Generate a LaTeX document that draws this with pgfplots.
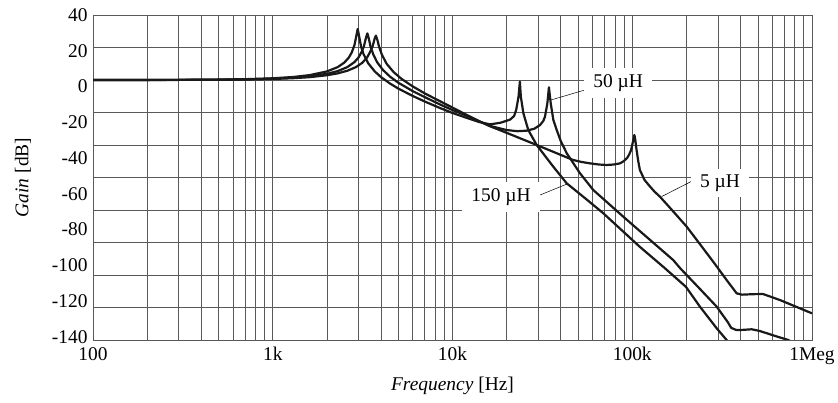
\documentclass[border=0pt]{standalone}
\usepackage{pgfplots}
\pgfplotsset{compat=1.18}
\usepackage{fontspec}
\setmainfont{Liberation Serif}
\newcommand{\fs}{\fontsize{19.5}{22}\selectfont}
\begin{document}
\begin{tikzpicture}
\begin{axis}[
  at={(0,0)}, anchor=south west,
  scale only axis, width=719bp, height=325bp,
  xmode=log, log basis x=10,
  xmin=100, xmax=1000000, ymin=-160, ymax=40,
  xtick={100,1000,10000,100000,1000000},
  xticklabels={100,1k,10k,100k,1Meg},
  minor xtick={200,300,400,500,600,700,800,900,2000,3000,4000,5000,6000,7000,8000,9000,20000,30000,40000,50000,60000,70000,80000,90000,200000,300000,400000,500000,600000,700000,800000,900000},
  ytick={40,18,-4,-26,-48,-70,-92,-114,-136,-158},
  yticklabels={40,20,0,-20,-40,-60,-80,-100,-120,-140},
  minor ytick={-160,-140,...,40},
  xmajorgrids=true, xminorgrids=true,
  ymajorgrids=false, yminorgrids=true,
  major tick length=0pt, minor tick length=0pt,
  grid style={black!65, line width=0.6bp},
  minor grid style={black!65, line width=0.6bp},
  axis line style={black!65, line width=0.6bp},
  tick label style={font=\fs},
  xticklabel style={yshift=-4bp},
  yticklabel style={xshift=-2bp},
  label style={font=\fs},
  xlabel={\textit{Frequency} [Hz]},
  ylabel={\textit{Gain} [dB]},
  xlabel style={yshift=-6bp},
  ylabel style={yshift=14bp},
  clip=true,
]
% 150 uH
\addplot[black!90, line width=2.2bp, no marks, line join=round] coordinates {(100,0) (300,0.09) (500,0.25) (700,0.5) (1000,1.05) (1300,1.85) (1600,2.98) (2000,5.25) (2300,7.95) (2500,10.7) (2650,13.8) (2750,16.9) (2850,21.6) (2920,27.4) (2970,31.4) (3020,27.2) (3100,20.6) (3200,15.9) (3400,10.2) (3700,5.2) (4000,1.8) (4500,-2.25) (5000,-5.3) (6000,-9.8) (7000,-13.2) (8500,-17.2) (10000,-20.3) (12000,-23.3) (14000,-25.8) (16200,-27.3) (18500,-26.3) (20900,-24.4) (22000,-22.2) (22600,-18.5) (23300,-10.3) (23700,-1.0) (24000,-10.3) (24800,-20.5) (26400,-30.8) (29400,-40) (36400,-53.4) (43200,-63.6) (55000,-73) (69000,-82) (110000,-102.6) (150000,-115.3) (199000,-127.3) (238000,-139.5) (295000,-152.8) (335000,-160) (370000,-167)};
% 50 uH
\addplot[black!90, line width=2.2bp, no marks, line join=round] coordinates {(100,0) (300,0.07) (500,0.19) (700,0.39) (1000,0.81) (1300,1.41) (1600,2.23) (2000,3.8) (2300,5.49) (2600,7.93) (2850,11.05) (3000,13.86) (3120,17.2) (3220,21.0) (3300,25.9) (3360,28.7) (3420,25.7) (3500,20.6) (3620,15.9) (3800,11.1) (4100,6.2) (4500,2.0) (5000,-1.7) (6000,-6.8) (7000,-10.5) (8500,-15.0) (10000,-18.5) (12000,-22) (14000,-25.3) (16200,-28.3) (20000,-30.8) (23000,-31.5) (25800,-31.2) (28500,-30) (30700,-27.7) (32000,-25.2) (32700,-22.6) (33700,-14.4) (34400,-4.5) (35200,-14.4) (36400,-24.6) (38000,-30.8) (40000,-37.5) (43200,-45.1) (51200,-57.4) (60700,-67.7) (89100,-84.1) (169000,-110.8) (185000,-115.9) (240000,-129) (295000,-139.5) (340000,-149) (355000,-152.5) (380000,-153.9) (408000,-153.8) (462000,-153.4) (514000,-154.5) (623000,-157.5) (738000,-160) (800000,-162)};
% 5 uH
\addplot[black!90, line width=2.2bp, no marks, line join=round] coordinates {(100,0) (300,0.06) (500,0.16) (700,0.31) (1000,0.64) (1300,1.11) (1600,1.74) (2000,2.91) (2300,4.1) (2600,5.69) (2900,7.92) (3150,10.6) (3350,13.9) (3480,17.2) (3600,21.0) (3690,25.5) (3750,27.3) (3820,24.7) (3900,20.6) (4050,15.5) (4300,10.0) (4700,4.9) (5200,0.7) (6000,-3.9) (7000,-8.2) (8500,-13.0) (10000,-17.0) (12000,-21.5) (14000,-25.2) (16200,-28.5) (20000,-32.5) (29400,-40) (36000,-44) (46800,-49.2) (52000,-50.4) (58200,-51.3) (65000,-52.0) (72400,-52.3) (79000,-52.0) (85500,-51.3) (89500,-50.0) (93600,-48) (96000,-46) (98500,-43.1) (101400,-36.9) (102800,-33.8) (104000,-36.9) (105700,-43.1) (108000,-50) (110300,-55.4) (117000,-61.5) (125600,-65.6) (133000,-68.7) (142600,-71.8) (170000,-81.2) (201000,-90.3) (282000,-111.8) (335000,-123.1) (381000,-131.3) (408000,-132.1) (470000,-131.8) (534000,-131.7) (663000,-135.4) (1000000,-143.6)};
% labels
\draw[black, line width=0.5bp] (axis cs:62100,-4.3) -- (axis cs:35300,-12.3);
\draw[black, line width=0.5bp] (axis cs:28800,-72) -- (axis cs:43400,-64);
\draw[black, line width=0.5bp] (axis cs:238000,-59.7) -- (axis cs:146000,-71.7);
\node[fill=white, inner xsep=9bp, inner ysep=6bp, font=\fs] at (axis cs:83400,-1.85) {50 µH};
\node[fill=white, inner xsep=9bp, inner ysep=6bp, font=\fs] at (axis cs:18600,-72) {150 µH};
\node[fill=white, inner xsep=9bp, inner ysep=6bp, font=\fs] at (axis cs:307600,-63.4) {5 µH};
\end{axis}
\pgfresetboundingbox
\useasboundingbox (-93bp,-63bp) rectangle (745bp,340bp);
\end{tikzpicture}
\end{document}
